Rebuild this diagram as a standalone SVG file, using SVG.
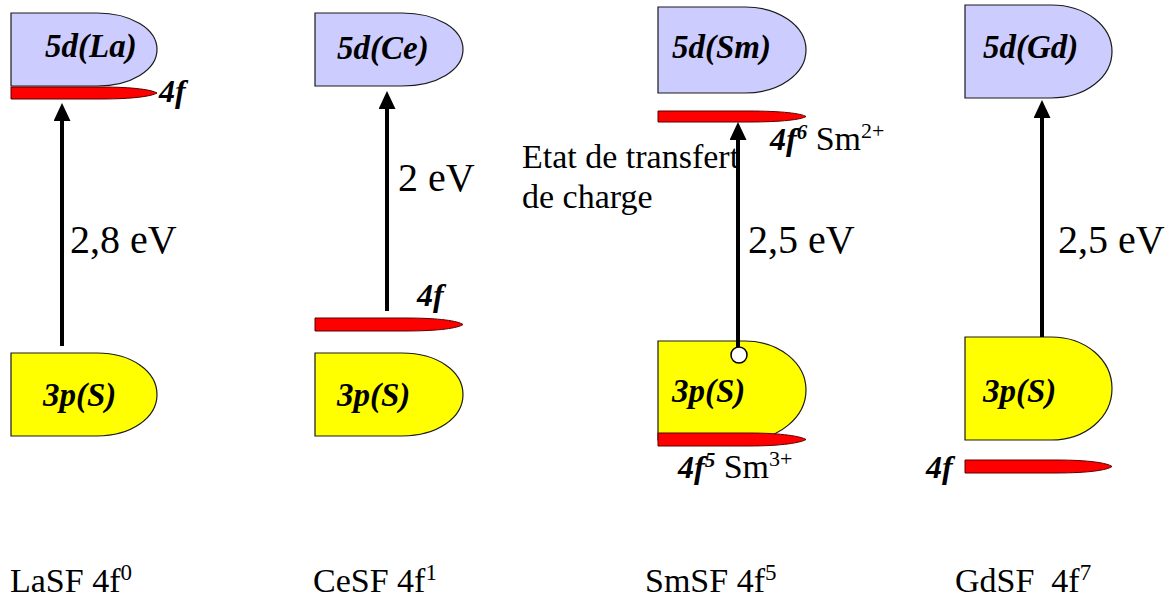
<svg xmlns="http://www.w3.org/2000/svg" width="1169" height="601" viewBox="0 0 1169 601">
<style>
.d5{fill:#CCCCFF;stroke:#1a1a1a;stroke-width:1.2}
.p3{fill:#FFFF00;stroke:#1a1a1a;stroke-width:1.2}
.f4{fill:#FF0000;stroke:#5a0000;stroke-width:1}
.arr{stroke:#000;stroke-width:4;fill:none}
</style>
<defs>
<marker id="ah" markerUnits="userSpaceOnUse" markerWidth="18" markerHeight="17" viewBox="0 0 18 17" refX="2" refY="8.5" orient="auto">
<path d="M0,0 L18,8.5 L0,17 Z" fill="#000"/>
</marker>
</defs>
<rect width="1169" height="601" fill="#fff"/>

<g font-family="Liberation Serif" fill="#000">
<!-- La -->
<g id="la-5d">
<path class="d5" d="M11,13 H97 C131,13 157,29 157,49.5 C157,70 131,86 97,86 H11 Z"/>
<text x="45" y="57" font-weight="bold" font-style="italic" font-size="33">5d(La)</text>
</g>
<g id="la-4f">
<path class="f4" d="M11,87 H100 C135,87 152,90 157,93 C152,96 135,99 100,99 H11 Z"/>
<text x="159" y="102" font-weight="bold" font-style="italic" font-size="32">4f</text>
</g>
<g id="la-3p">
<path class="p3" d="M11,353 H97 C131,353 157,371 157,394.5 C157,418 131,436 97,436 H11 Z"/>
<text x="43" y="406" font-weight="bold" font-style="italic" font-size="33">3p(S)</text>
</g>
<text id="la-ev" x="70" y="253" font-size="40">2,8 eV</text>
<text id="la-name" x="10" y="592" font-size="34">LaSF 4f<tspan font-size="23" dy="-12">0</tspan></text>

<!-- Ce -->
<g id="ce-5d">
<path class="d5" d="M315,13 H402 C437,13 463,29 463,49.5 C463,70 437,86 402,86 H315 Z"/>
<text x="337" y="59" font-weight="bold" font-style="italic" font-size="33">5d(Ce)</text>
</g>
<g id="ce-4f">
<path class="f4" d="M315,318 H405 C440,318 458,321 463,324.5 C458,328 440,331 405,331 H315 Z"/>
<text x="417" y="306" font-weight="bold" font-style="italic" font-size="32">4f</text>
</g>
<g id="ce-3p">
<path class="p3" d="M315,353 H402 C437,353 463,371 463,394.5 C463,418 437,436 402,436 H315 Z"/>
<text x="337" y="406" font-weight="bold" font-style="italic" font-size="33">3p(S)</text>
</g>
<text id="ce-ev" x="398" y="191" font-size="40">2 eV</text>
<text id="ce-name" x="313" y="592" font-size="34">CeSF 4f<tspan font-size="23" dy="-12">1</tspan></text>

<!-- Sm -->
<g id="sm-5d">
<path class="d5" d="M658,7 H745 C779,7 806,26 806,50 C806,74 779,93 745,93 H658 Z"/>
<text x="672" y="58" font-weight="bold" font-style="italic" font-size="33">5d(Sm)</text>
</g>
<g id="sm-3p">
<path class="p3" d="M658,341 H745 C779,341 806,363 806,390 C806,417 779,440 745,440 H658 Z"/>
<text x="672" y="402" font-weight="bold" font-style="italic" font-size="33">3p(S)</text>
</g>
<g id="sm-4f6">
<path class="f4" d="M658,111 H748 C783,111 801,113.5 806,116.5 C801,119.5 783,122 748,122 H658 Z"/>
<text x="770" y="150" font-size="34"><tspan font-weight="bold" font-style="italic" font-size="32">4f</tspan><tspan font-weight="bold" font-style="italic" font-size="21" dy="-11">6</tspan><tspan dy="11"> Sm</tspan><tspan font-size="22" dy="-12">2+</tspan></text>
</g>
<g id="sm-4f5">
<path class="f4" d="M658,433 H748 C783,433 801,436.5 806,439.5 C801,442.5 783,446 748,446 H658 Z"/>
<text x="678" y="478" font-size="34"><tspan font-weight="bold" font-style="italic" font-size="32">4f</tspan><tspan font-weight="bold" font-style="italic" font-size="21" dy="-11">5</tspan><tspan dy="11"> Sm</tspan><tspan font-size="22" dy="-12">3+</tspan></text>
</g>
<g id="sm-ct">
<text x="522" y="168" font-size="34">Etat de transfert</text>
<text x="522" y="208" font-size="34">de charge</text>
</g>
<text id="sm-ev" x="748" y="253" font-size="40">2,5 eV</text>
<text id="sm-name" x="645" y="592" font-size="34">SmSF 4f<tspan font-size="23" dy="-12">5</tspan></text>

<!-- Gd -->
<g id="gd-5d">
<path class="d5" d="M965,5 H1051 C1086,5 1112,26 1112,51.5 C1112,77 1086,98 1051,98 H965 Z"/>
<text x="983" y="58" font-weight="bold" font-style="italic" font-size="33">5d(Gd)</text>
</g>
<g id="gd-3p">
<path class="p3" d="M965,337 H1051 C1086,337 1112,360 1112,388.5 C1112,417 1086,440 1051,440 H965 Z"/>
<text x="983" y="402" font-weight="bold" font-style="italic" font-size="33">3p(S)</text>
</g>
<g id="gd-4f">
<path class="f4" d="M965,460 H1055 C1090,460 1107,463 1112,466.5 C1107,470 1090,473 1055,473 H965 Z"/>
<text x="926" y="478" font-weight="bold" font-style="italic" font-size="32">4f</text>
</g>
<text id="gd-ev" x="1058" y="253" font-size="40">2,5 eV</text>
<text id="gd-name" x="955" y="592" font-size="34" xml:space="preserve">GdSF  4f<tspan font-size="23" dy="-12">7</tspan></text>
</g>

<!-- connectors -->
<g id="connectors">
<line class="arr" x1="62" y1="346" x2="62" y2="119" marker-end="url(#ah)"/>
<line class="arr" x1="387" y1="311" x2="387" y2="107" marker-end="url(#ah)"/>
<line class="arr" x1="738" y1="348" x2="738" y2="138" marker-end="url(#ah)"/>
<line class="arr" x1="1042" y1="337" x2="1042" y2="116" marker-end="url(#ah)"/>
<circle cx="739" cy="355" r="8" fill="#fff" stroke="#000" stroke-width="1.5"/>
</g>
</svg>
